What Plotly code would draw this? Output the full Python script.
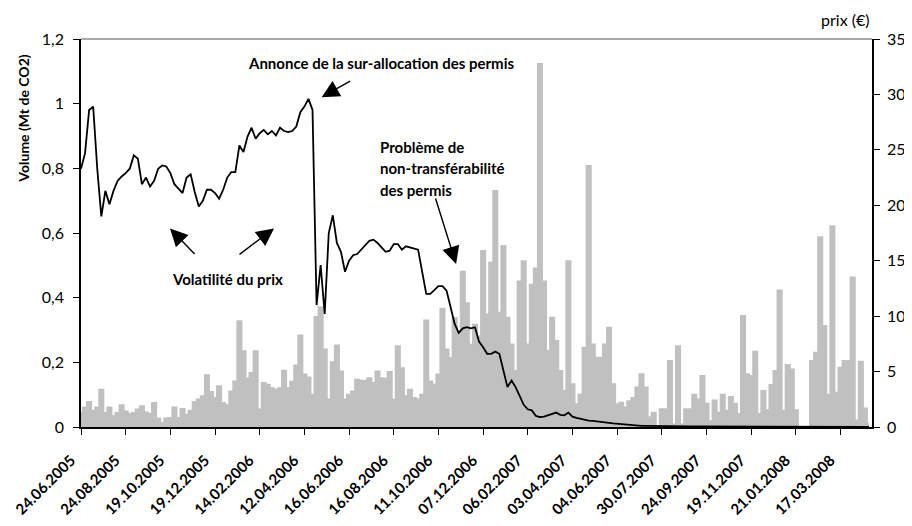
import plotly.graph_objects as go

# volume (Mt de CO2) and prix (EUR), one reading every 4 trading days from 24.06.2005
VOLUME = [
    0.043, 0.06, 0.077, 0.05, 0.06, 0.115, 0.043, 0.06, 0.033, 0.043,
    0.067, 0.048, 0.04, 0.043, 0.054, 0.064, 0.045, 0.04, 0.074, 0.026,
    0.012, 0.026, 0.028, 0.06, 0.028, 0.056, 0.038, 0.05, 0.077, 0.085,
    0.095, 0.16, 0.108, 0.09, 0.126, 0.074, 0.067, 0.11, 0.141, 0.327,
    0.234, 0.15, 0.167, 0.234, 0.054, 0.136, 0.131, 0.12, 0.115, 0.12,
    0.174, 0.12, 0.14, 0.19, 0.283, 0.162, 0.153, 0.1, 0.34, 0.37,
    0.24, 0.085, 0.2, 0.252, 0.172, 0.085, 0.1, 0.11, 0.146, 0.143,
    0.143, 0.151, 0.136, 0.172, 0.151, 0.149, 0.17, 0.085, 0.25, 0.182,
    0.095, 0.115, 0.09, 0.085, 0.1, 0.329, 0.141, 0.131, 0.162, 0.366,
    0.24, 0.213, 0.337, 0.296, 0.48, 0.383, 0.254, 0.316, 0.28, 0.544,
    0.348, 0.508, 0.73, 0.353, 0.56, 0.338, 0.255, 0.173, 0.45, 0.513,
    0.255, 0.44, 0.49, 1.123, 0.45, 0.235, 0.338, 0.266, 0.173, 0.111,
    0.513, 0.132, 0.07, 0.1, 0.245, 0.807, 0.255, 0.214, 0.214, 0.255,
    0.307, 0.132, 0.07, 0.075, 0.06, 0.08, 0.09, 0.122, 0.163, 0.122,
    0.03, 0.044, 0.003, 0.055, 0.055, 0.204, 0.008, 0.25, 0.008, 0.055,
    0.055, 0.1, 0.085, 0.158, 0.072, 0.018, 0.082, 0.044, 0.1, 0.05,
    0.093, 0.072, 0.04, 0.343, 0.163, 0.158, 0.233, 0.04, 0.111, 0.052,
    0.13, 0.173, 0.422, 0.05, 0.192, 0.178, 0.052, 0, 0, 0,
    0.204, 0.23, 0.587, 0.312, 0.1, 0.621, 0.106, 0.183, 0.204, 0.204,
    0.462, 0.02, 0.202, 0.057, 0.01,
]

PRIX = [
    23.3, 24.7, 28.6, 28.9, 23.3, 19.0, 21.3, 20.1, 21.3, 22.2,
    22.6, 22.9, 23.3, 24.5, 24.2, 21.9, 22.5, 21.7, 22.2, 23.3,
    23.6, 23.5, 22.9, 21.9, 21.5, 21.1, 22.5, 22.8, 21.2, 19.9,
    20.4, 21.4, 21.4, 21.1, 20.6, 21.4, 22.5, 23.0, 23.0, 25.4,
    24.8, 26.2, 27.0, 26.0, 26.5, 26.8, 26.4, 26.7, 26.3, 27.0,
    26.7, 26.6, 26.7, 27.1, 28.4, 28.9, 29.6, 28.6, 11.0, 14.6,
    10.2, 17.5, 19.1, 16.6, 15.8, 14.0, 15.0, 15.5, 15.6, 16.0,
    16.3, 16.8, 16.9, 16.6, 16.2, 15.8, 15.9, 16.5, 16.5, 16.0,
    16.3, 16.2, 16.1, 16.0, 14.0, 12.0, 12.0, 12.4, 12.7, 12.7,
    12.3, 10.8, 9.3, 8.5, 8.9, 9.0, 8.9, 9.0, 7.7, 7.2,
    6.6, 6.6, 6.8, 6.6, 5.0, 3.6, 4.2, 3.6, 2.8, 2.0,
    1.6, 1.5, 1.0, 0.9, 0.93, 1.05, 1.2, 1.3, 1.1, 1.05,
    1.3, 0.93, 0.82, 0.73, 0.64, 0.58, 0.55, 0.52, 0.47, 0.44,
    0.38, 0.32, 0.29, 0.26, 0.2, 0.15, 0.13, 0.12, 0.1, 0.1,
    0.09, 0.08, 0.08, 0.07, 0.07, 0.07, 0.06, 0.06, 0.06, 0.05,
    0.05, 0.05, 0.05, 0.04, 0.04, 0.04, 0.04, 0.04, 0.03, 0.03,
    0.03, 0.03, 0.03, 0.03, 0.03, 0.02, 0.02, 0.02, 0.02, 0.02,
    0.02, 0.02, 0.02, 0.02, 0.02, 0.02, 0.02, 0.02, 0.02, 0.02,
    0.02, 0.02, 0.02, 0.02, 0.02, 0.02, 0.02, 0.02, 0.02, 0.02,
    0.02, 0.02, 0.02, 0.02, 0.02,
]

PAS = 4  # jours de cotation entre deux lectures
JOURS = [i * PAS for i in range(len(VOLUME))]

DATES = [
    "24.06.2005", "24.08.2005", "19.10.2005", "19.12.2005", "14.02.2006",
    "12.04.2006", "16.06.2006", "16.08.2006", "11.10.2006", "07.12.2006",
    "06.02.2007", "03.04.2007", "04.06.2007", "30.07.2007", "24.09.2007",
    "19.11.2007", "21.01.2008", "17.03.2008",
]
JOURS_DATES = [i * 44 for i in range(len(DATES))]

GRIS = "#C0C0C0"
NOIR = "black"
FONT = "Lato"
X_RANGE = [0, 779]

fig = go.Figure()
fig.add_trace(go.Scatter(
    x=JOURS, y=VOLUME, mode="lines", line=dict(color=GRIS, width=2, shape="hvh"),
    fill="tozeroy", fillcolor=GRIS, name="Volume", yaxis="y",
))
fig.add_trace(go.Scatter(
    x=JOURS, y=PRIX, mode="lines", line=dict(color=NOIR, width=1.8),
    name="Prix", yaxis="y2",
))

axe = dict(showgrid=False, zeroline=False, showline=True, linecolor=NOIR,
           linewidth=1.5, ticks="outside", ticklen=6, tickcolor=NOIR, tickwidth=1.3,
           automargin=False)
croix = dict(showgrid=False, zeroline=False, showline=False, ticks="inside",
             ticklen=6, tickcolor=NOIR, tickwidth=1.3, showticklabels=False)

# la page est décalée de 8 px par la marge du body
fig.update_layout(
    width=904, height=518,
    margin=dict(l=73, r=40, t=31, b=99, autoexpand=False),
    paper_bgcolor="white", plot_bgcolor="white",
    showlegend=False, separators=", ",
    font=dict(family=FONT, color=NOIR),
    xaxis=dict(range=X_RANGE, tickmode="array", tickvals=JOURS_DATES, ticktext=DATES,
               tickangle=-45, tickfont=dict(size=15, weight="bold"),
               ticklabelstandoff=11, ticklabelshift=-10, ticklabeloverflow="allow", **axe),
    yaxis=dict(range=[0, 1.2], tick0=0, dtick=0.2, tickfont=dict(size=16),
               ticklabelstandoff=6, **axe),
    yaxis2=dict(range=[0, 35], tick0=0, dtick=5, overlaying="y", side="right",
                tickfont=dict(size=16), ticklabelstandoff=4, **axe),
    xaxis2=dict(range=X_RANGE, tickmode="array", tickvals=JOURS_DATES,
                overlaying="x", anchor="y", side="bottom", **croix),
    yaxis3=dict(range=[0, 1.2], tick0=0, dtick=0.2, overlaying="y", anchor="x",
                side="left", **croix),
    yaxis4=dict(range=[0, 35], tick0=0, dtick=5, overlaying="y", anchor="x",
                side="right", **croix),
)

# bordure haute de la zone de tracé
fig.add_shape(type="line", xref="paper", yref="paper", x0=0, x1=1, y0=1, y1=1,
              line=dict(color="#8C8C8C", width=1.5))

gras = dict(family=FONT, size=15, color=NOIR, weight="bold")


def fleche(x, y, ax, ay):
    fig.add_annotation(x=x, y=y, ax=ax, ay=ay, xref="x", yref="y", text="",
                       showarrow=True, arrowhead=2, arrowsize=2.5, arrowwidth=1.4,
                       arrowcolor=NOIR, axref="pixel", ayref="pixel")


fig.add_annotation(x=295.5, y=1.125, text="Annonce de la sur-allocation des permis",
                   showarrow=False, font=gras, xref="x", yref="y")
fleche(237, 1.02, 30, -17)

for ligne, yv in [("Problème de", 0.867), ("non-transférabilité", 0.800), ("des permis", 0.733)]:
    fig.add_annotation(x=292.3, y=yv, text=ligne, showarrow=False, font=gras,
                       xanchor="left", xref="x", yref="y")
fleche(369.4, 0.504, -21, -67)

fig.add_annotation(x=144.3, y=0.459, text="Volatilité du prix", showarrow=False,
                   font=gras, xref="x", yref="y")
fleche(87.7, 0.614, 26, 27)
fleche(190.1, 0.614, -36, 27)

fig.add_annotation(x=-0.0727, y=0.796, xref="paper", yref="paper", text="Volume (Mt de CO2)",
                   textangle=-90, showarrow=False, xanchor="center", yanchor="middle",
                   font=dict(family=FONT, size=14, weight="bold"))
fig.add_annotation(x=1, y=1.0515, xref="paper", yref="paper", text="prix (€)",
                   xanchor="right", yanchor="middle", showarrow=False,
                   font=dict(family=FONT, size=16))

fig.write_html("out.html")
